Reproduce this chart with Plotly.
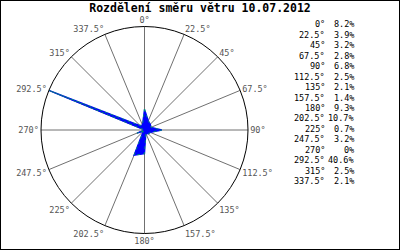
import plotly.graph_objects as go

title = "Rozdělení směru větru 10.07.2012"
directions = [0, 22.5, 45, 67.5, 90, 112.5, 135, 157.5, 180, 202.5, 225, 247.5, 270, 292.5, 315, 337.5]
dir_labels = ["0°", "22.5°", "45°", "67.5°", "90°", "112.5°", "135°", "157.5°",
              "180°", "202.5°", "225°", "247.5°", "270°", "292.5°", "315°", "337.5°"]
shares = [8.2, 3.9, 3.2, 2.8, 6.8, 2.5, 2.1, 1.4, 9.3, 10.7, 0.7, 3.2, 0, 40.6, 2.5, 2.1]

W, H = 400, 250
cx, cy, R = 144.5, 130, 103.5

fig = go.Figure()
fig.add_trace(go.Scatterpolar(
    r=shares + [shares[0]], theta=directions + [directions[0]],
    mode="lines", fill="toself", fillcolor="#0000ff",
    line=dict(color="#0000ff", width=1.3), hoverinfo="skip"))
fig.add_trace(go.Scatterpolar(
    r=shares + [shares[0]], theta=directions + [directions[0]],
    mode="lines", line=dict(color="#00ff00", width=0.5, dash="dot"), hoverinfo="skip"))

mono = "DejaVu Sans Mono"
fig.update_layout(
    width=W, height=H, margin=dict(l=0, r=0, t=0, b=0),
    paper_bgcolor="white", showlegend=False,
    title=dict(text="<b>" + title + "</b>", x=0.5, xanchor="center", y=1 - 8 / H, yanchor="middle",
               font=dict(family=mono, size=11.5, color="black")),
    polar=dict(
        domain=dict(x=[(cx - R) / W, (cx + R) / W], y=[(H - cy - R) / H, (H - cy + R) / H]),
        bgcolor="white",
        radialaxis=dict(range=[0, max(shares)], visible=False, showgrid=False),
        angularaxis=dict(rotation=90, direction="clockwise", tickmode="array",
                         tickvals=directions, ticktext=dir_labels,
                         showline=True, linecolor="black", linewidth=1,
                         showgrid=True, gridcolor="#707070", gridwidth=1,
                         ticks="",
                         tickfont=dict(family=mono, size=8.5, color="#555555")),
    ),
    shapes=[dict(type="rect", xref="paper", yref="paper", x0=0, y0=0, x1=1, y1=1,
                 line=dict(color="black", width=2))],
)

for i, (lab, v) in enumerate(zip(dir_labels, shares)):
    y = 1 - (24.5 + i * 10.43) / H
    txt = "0%" if v == 0 else f"{v:.1f}%"
    fig.add_annotation(x=327 / W, y=y, xref="paper", yref="paper", text=lab, showarrow=False,
                       xanchor="right", yanchor="middle", font=dict(family=mono, size=8.5, color="black"))
    fig.add_annotation(x=356 / W, y=y, xref="paper", yref="paper", text=txt, showarrow=False,
                       xanchor="right", yanchor="middle", font=dict(family=mono, size=8.5, color="black"))

fig.write_html("out.html")
